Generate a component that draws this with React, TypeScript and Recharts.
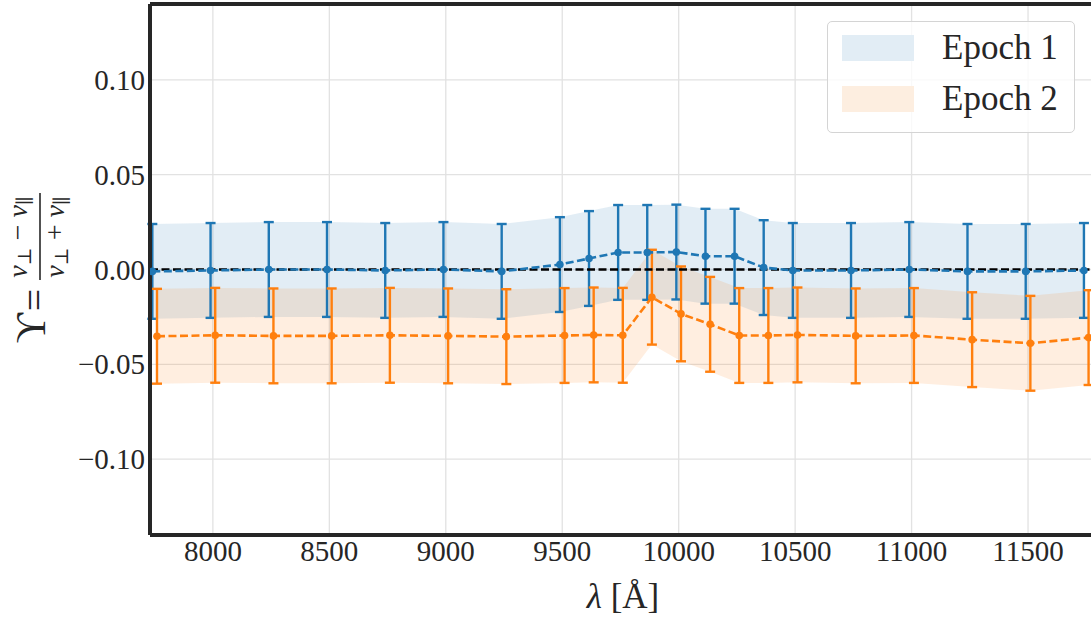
import React from 'react';
import {
  ComposedChart,
  Area,
  Scatter,
  ErrorBar,
  XAxis,
  YAxis,
  CartesianGrid,
  ReferenceLine,
} from 'recharts';

// wavelength grid (Å) of the measurements
const wavelengths = [
  7750, 8000, 8250, 8500, 8750, 9000, 9250, 9500, 9625, 9750, 9875,
  10000, 10125, 10250, 10375, 10500, 10750, 11000, 11250, 11500, 11750,
];

// Epoch 1 (blue)
const epoch1Values = [
  -0.001, -0.0005, 0, 0, -0.0005, 0, -0.001, 0.0026, 0.0058, 0.009, 0.009,
  0.0092, 0.007, 0.007, 0.001, -0.0005, -0.0005, 0, -0.001, -0.001, -0.0005,
];
const epoch1Errors = [
  0.025, 0.025, 0.025, 0.025, 0.025, 0.025, 0.025, 0.025, 0.025, 0.025, 0.025,
  0.025, 0.025, 0.025, 0.025, 0.025, 0.025, 0.025, 0.025, 0.025, 0.025,
];

// Epoch 2 (orange)
const epoch2Values = [
  -0.0352, -0.0347, -0.035, -0.035, -0.0347, -0.035, -0.0354, -0.0348, -0.0345, -0.0347, -0.0146,
  -0.0234, -0.0289, -0.0348, -0.0348, -0.0345, -0.035, -0.0348, -0.037, -0.0389, -0.0359,
];
const epoch2Errors = [
  0.025, 0.025, 0.025, 0.025, 0.025, 0.025, 0.025, 0.025, 0.025, 0.025, 0.025,
  0.025, 0.025, 0.025, 0.025, 0.025, 0.025, 0.025, 0.025, 0.025, 0.025,
];

const seriesNames = ['Epoch 1', 'Epoch 2'];
const xTicks = [8000, 8500, 9000, 9500, 10000, 10500, 11000, 11500];
const yTicks = [-0.1, -0.05, 0, 0.05, 0.1];

const X_DOMAIN: [number, number] = [7730, 11809];
const Y_DOMAIN: [number, number] = [-0.14, 0.14];
const DODGE = 10; // the two epochs are shifted slightly in wavelength

const BLUE = '#1f77b4';
const ORANGE = '#ff7f0e';
const INK = '#262626';
const SERIF = "'Liberation Serif', 'Times New Roman', 'DejaVu Serif', serif";

const epoch1 = wavelengths.map((w, i) => ({ x: w - DODGE, y: epoch1Values[i], err: epoch1Errors[i] }));
const epoch2 = wavelengths.map((w, i) => ({ x: w + DODGE, y: epoch2Values[i], err: epoch2Errors[i] }));
const zeroLine = [{ x: X_DOMAIN[0], y: 0 }, { x: X_DOMAIN[1], y: 0 }];

const band = (d: any) => [d.y - d.err, d.y + d.err];

const fmtY = (v: number) => (v < 0 ? '\u2212' + Math.abs(v).toFixed(2) : v.toFixed(2));

const Dot = (color: string) => (props: any) => (
  <circle cx={props.cx} cy={props.cy} r={3.8} fill={color} />
);
const NoDot = () => <g />;

const XTick = ({ x, y, payload }: any) => (
  <text x={x} y={y} dy={26} textAnchor="middle" fontFamily={SERIF} fontSize={29} fill={INK}>
    {payload.value}
  </text>
);

const YTick = ({ x, y, payload }: any) => (
  <text x={x} y={y} dy={10} textAnchor="end" fontFamily={SERIF} fontSize={29} fill={INK}>
    {fmtY(payload.value)}
  </text>
);

// Y label: Upsilon = (nu_perp - nu_par) / (nu_perp + nu_par), rotated
const YLabel = () => (
  <g transform="translate(40, 270) rotate(-90)" fill={INK} fontFamily={SERIF}>
    <text x={-58} y={5} fontSize={42} textAnchor="middle">ϒ</text>
    <text x={-30} y={8} fontSize={40} textAnchor="middle">=</text>
    <text x={33} y={-13} fontSize={28} textAnchor="middle">
      <tspan fontStyle="italic">ν</tspan>
      <tspan fontSize={19} dy={4}>⊥</tspan>
      <tspan dy={-4}> − </tspan>
      <tspan fontStyle="italic">ν</tspan>
      <tspan fontSize={19} dy={4}>∥</tspan>
    </text>
    <line x1={-10} x2={77} y1={0} y2={0} stroke={INK} strokeWidth={1.6} />
    <text x={33} y={24} fontSize={28} textAnchor="middle">
      <tspan fontStyle="italic">ν</tspan>
      <tspan fontSize={19} dy={4}>⊥</tspan>
      <tspan dy={-4}> + </tspan>
      <tspan fontStyle="italic">ν</tspan>
      <tspan fontSize={19} dy={4}>∥</tspan>
    </text>
  </g>
);

const XLabel = () => (
  <text x={623} y={608} fontSize={35} fontFamily={SERIF} fill={INK} textAnchor="middle">
    <tspan fontStyle="italic">λ</tspan> [Å]
  </text>
);

const LegendBox = () => {
  const patches = ['#e2edf5', '#fdeee0'];
  return (
    <div
      style={{
        position: 'absolute',
        left: 827,
        top: 21,
        width: 248,
        height: 112,
        boxSizing: 'border-box',
        border: '1.5px solid #d4d4d4',
        borderRadius: 5,
        background: 'rgba(255,255,255,0.8)',
        fontFamily: SERIF,
        fontSize: 35,
        color: INK,
      }}
    >
      {seriesNames.map((name, i) => (
        <div key={name} style={{ position: 'absolute', left: 14, top: 13 + i * 51, height: 26, display: 'flex', alignItems: 'center' }}>
          <span style={{ display: 'inline-block', width: 72, height: 26, background: patches[i] }} />
          <span style={{ marginLeft: 28, lineHeight: '26px', whiteSpace: 'nowrap' }}>{name}</span>
        </div>
      ))}
    </div>
  );
};

export default function App() {
  return (
    <div style={{ position: 'absolute', left: 0, top: 0, width: 1091, height: 621, overflow: 'hidden', background: '#fff', fontFamily: SERIF }}>
      <ComposedChart width={1100} height={621} margin={{ top: 4, right: 0, bottom: 0, left: 0 }}>
        <CartesianGrid stroke="#e2e2e2" strokeWidth={1.3} />
        <XAxis
          type="number"
          dataKey="x"
          domain={X_DOMAIN}
          ticks={xTicks}
          allowDataOverflow
          axisLine={false}
          tickLine={false}
          tickSize={0}
          tickMargin={0}
          height={86}
          tick={<XTick />}
          label={<XLabel />}
        />
        <YAxis
          type="number"
          dataKey="y"
          domain={Y_DOMAIN}
          ticks={yTicks}
          allowDataOverflow
          axisLine={false}
          tickLine={false}
          tickSize={3}
          tickMargin={2}
          width={150}
          tick={<YTick />}
          label={<YLabel />}
        />
        <Area data={epoch1} dataKey={band} type="linear" stroke="none" fill={BLUE} fillOpacity={0.13} isAnimationActive={false} />
        <Area data={epoch2} dataKey={band} type="linear" stroke="none" fill={ORANGE} fillOpacity={0.13} isAnimationActive={false} />
        <Scatter
          data={zeroLine}
          line={{ stroke: '#000', strokeWidth: 2.6, strokeDasharray: '8 3.5' }}
          shape={NoDot}
          isAnimationActive={false}
        />
        <Scatter
          name={seriesNames[0]}
          data={epoch1}
          line={{ stroke: BLUE, strokeWidth: 2.6, strokeDasharray: '8 3.5' }}
          shape={Dot(BLUE)}
          isAnimationActive={false}
        >
          <ErrorBar dataKey="err" direction="y" width={5} stroke={BLUE} strokeWidth={2.4} />
        </Scatter>
        <Scatter
          name={seriesNames[1]}
          data={epoch2}
          line={{ stroke: ORANGE, strokeWidth: 2.6, strokeDasharray: '8 3.5' }}
          shape={Dot(ORANGE)}
          isAnimationActive={false}
        >
          <ErrorBar dataKey="err" direction="y" width={5} stroke={ORANGE} strokeWidth={2.4} />
        </Scatter>
        <ReferenceLine x={X_DOMAIN[0]} stroke={INK} strokeWidth={4} />
        <ReferenceLine y={Y_DOMAIN[1]} stroke={INK} strokeWidth={4} />
        <ReferenceLine y={Y_DOMAIN[0]} stroke={INK} strokeWidth={4} />
      </ComposedChart>
      <LegendBox />
    </div>
  );
}
